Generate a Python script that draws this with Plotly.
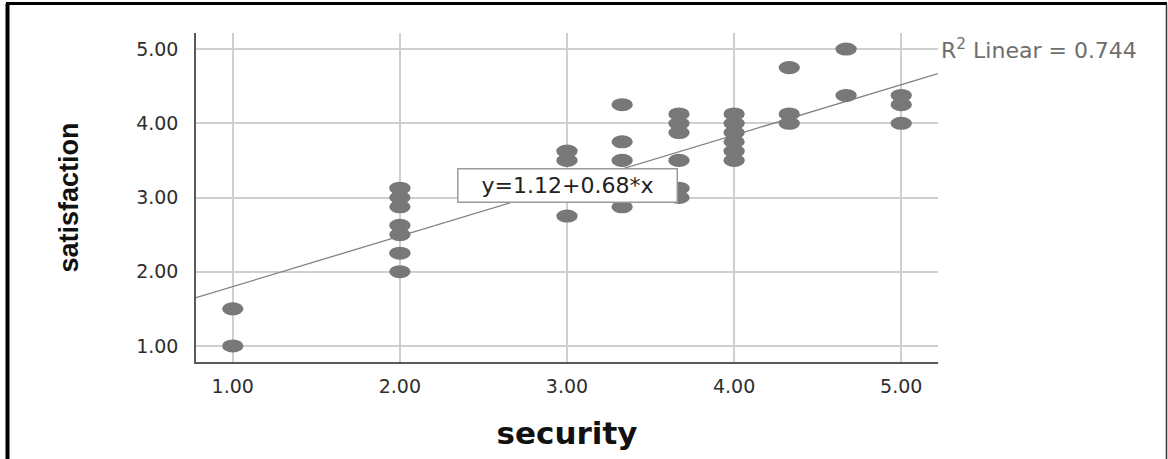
import plotly.graph_objects as go

# Observed scores per respondent
security = [
    1, 1,
    2, 2, 2, 2, 2, 2, 2,
    3, 3, 3,
    3.33, 3.33, 3.33, 3.33,
    3.67, 3.67, 3.67, 3.67, 3.67, 3.67,
    4, 4, 4, 4, 4, 4,
    4.33, 4.33, 4.33,
    4.67, 4.67,
    5, 5, 5,
]
satisfaction = [
    1.0, 1.5,
    3.125, 3.0, 2.875, 2.625, 2.5, 2.25, 2.0,
    3.625, 3.5, 2.75,
    4.25, 3.75, 3.5, 2.875,
    4.125, 4.0, 3.875, 3.5, 3.125, 3.0,
    4.125, 4.0, 3.875, 3.75, 3.625, 3.5,
    4.75, 4.125, 4.0,
    5.0, 4.375,
    4.375, 4.25, 4.0,
]

# Linear fit
intercept = 1.12
slope = 0.68
r_squared = 0.744

tick_vals = [1, 2, 3, 4, 5]
tick_text = ["1.00", "2.00", "3.00", "4.00", "5.00"]

x_range = [0.78, 5.22]
y_range = [0.784, 5.216]

dot_color = "#787878"
grid_color = "#cfcfcf"
axis_color = "#5a5a5a"
tick_font = dict(family="DejaVu Sans, Arial, sans-serif", size=19, color="#2e2e2e")

fig = go.Figure()

# regression line across the full x range
fit_x = x_range
fit_y = [intercept + slope * v for v in fit_x]
fig.add_trace(go.Scatter(
    x=fit_x, y=fit_y, mode="lines",
    line=dict(color="#808080", width=1.3),
    hoverinfo="skip", showlegend=False,
))

fig.add_trace(go.Scatter(
    x=security, y=satisfaction, mode="markers",
    marker=dict(color=dot_color, size=12, line=dict(width=0)),
    showlegend=False,
))

# elliptical dots (wider than tall)
rx, ry = 0.064, 0.088
shapes = []
for xv, yv in zip(security, satisfaction):
    shapes.append(dict(
        type="circle", xref="x", yref="y",
        x0=xv - rx, x1=xv + rx, y0=yv - ry, y1=yv + ry,
        fillcolor=dot_color, line=dict(width=0), layer="above",
    ))

# outer frame
L, T, W, H = 196, 33, 742, 329


def px_x(p):
    return (p - L) / W


def px_y(p):
    return (T + H - p) / H


frame = "#000000"
shapes += [
    dict(type="line", xref="paper", yref="paper", x0=px_x(7.5), x1=px_x(7.5),
         y0=px_y(3.5), y1=px_y(470), line=dict(color=frame, width=4)),
    dict(type="line", xref="paper", yref="paper", x0=px_x(6), x1=px_x(1167),
         y0=px_y(3.5), y1=px_y(3.5), line=dict(color=frame, width=3)),
    dict(type="line", xref="paper", yref="paper", x0=px_x(1166.5), x1=px_x(1166.5),
         y0=px_y(3.5), y1=px_y(470), line=dict(color="#333333", width=1.5)),
]

annotations = [
    dict(
        x=3.0, y=3.16, xref="x", yref="y",
        text="y=1.12+0.68*x", showarrow=False,
        font=dict(family="DejaVu Sans, Arial, sans-serif", size=22, color="#222222"),
        bgcolor="#ffffff", bordercolor="#9a9a9a", borderwidth=1.5,
        width=216, height=30, borderpad=1,
    ),
    dict(
        x=1.0, y=5.0, xref="paper", yref="y", xanchor="left", yanchor="middle",
        xshift=1,
        text=f"R<sup>2</sup> Linear = {r_squared:.3f}", showarrow=False,
        font=dict(family="DejaVu Sans, Arial, sans-serif", size=22, color="#6e6e6e"),
    ),
]

fig.update_layout(
    width=1168, height=459,
    margin=dict(l=L, r=1168 - L - W, t=T, b=459 - T - H),
    paper_bgcolor="#ffffff", plot_bgcolor="#ffffff",
    shapes=shapes, annotations=annotations,
    showlegend=False,
)

fig.update_xaxes(
    range=x_range, tickvals=tick_vals, ticktext=tick_text,
    showgrid=True, gridcolor=grid_color, gridwidth=2,
    zeroline=False, showline=True, linecolor=axis_color, linewidth=1.5,
    ticks="", tickfont=tick_font, ticklabelstandoff=6,
    title=dict(text="<b>security</b>", standoff=27,
               font=dict(family="DejaVu Sans, Arial, sans-serif", size=31, color="#111111")),
)
fig.update_yaxes(
    range=y_range, tickvals=tick_vals, ticktext=tick_text,
    showgrid=True, gridcolor=grid_color, gridwidth=2,
    zeroline=False, showline=True, linecolor=axis_color, linewidth=1.5,
    ticks="", tickfont=tick_font, ticklabelstandoff=12,
    title=dict(text="<b>satisfaction</b>", standoff=50,
               font=dict(family="Liberation Sans Narrow, Arial Narrow, Liberation Sans, sans-serif",
                         size=27, color="#111111")),
)

fig.write_html("out.html")
